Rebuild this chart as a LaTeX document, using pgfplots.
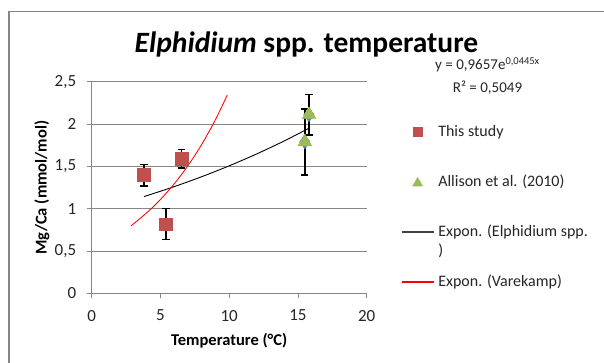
\documentclass[border=0pt]{standalone}
\usepackage{fontspec}
\setmainfont{Carlito}
\usepackage{pgfplots}
\usepackage{pgfplotstable}
\pgfplotsset{compat=1.18}
\definecolor{sqred}{HTML}{C0504D}
\definecolor{trigreen}{HTML}{9BBB59}
\definecolor{diablue}{HTML}{4F81BD}
\definecolor{gridgray}{HTML}{868686}
\definecolor{txt}{HTML}{262626}

\pgfplotstableread{
x y
3.8 1.40
5.4 0.82
6.55 1.59
}\thisstudy
\pgfplotstableread{
x y
15.5 1.79
15.8 2.11
}\allison
% error bar ends: x, lower, upper
\pgfplotstableread{
x y
3.8 1.27
3.8 1.52
3.8 nan
5.4 0.64
5.4 1.00
5.4 nan
6.55 1.48
6.55 1.70
6.55 nan
15.5 1.40
15.5 2.18
15.5 nan
15.8 1.87
15.8 2.35
}\errbars

\begin{document}
\begin{tikzpicture}
\useasboundingbox (0pt,0pt) rectangle (604pt,363pt);
\fill[white] (0pt,0pt) rectangle (604pt,363pt);
\draw[gridgray, line width=1.6pt] (9pt,0pt) -- (9pt,351.3pt) -- (604pt,351.3pt);
\begin{axis}[
  at={(91.7pt,69.5pt)}, anchor=south west,
  scale only axis, width=275pt, height=211.8pt,
  xmin=0, xmax=20, ymin=0, ymax=2.5,
  xtick={0,5,10,15,20}, ytick={0,0.5,1,1.5,2,2.5},
  axis x line*=bottom, axis y line*=left,
  axis line style={draw=gridgray, line width=0.9pt, -},
  ymajorgrids, grid style={gridgray, line width=0.9pt},
  tick align=outside, major tick length=5pt,
  tick style={gridgray, line width=0.9pt},
  /pgf/number format/use comma,
  /pgf/number format/assume math mode=true,
  tick label style={font=\fontsize{17}{20}\selectfont, text=txt},
  xticklabel style={yshift=-8pt},
  yticklabel style={xshift=-7pt},
  xlabel={\textbf{Temperature (°C)}},
  ylabel={\textbf{Mg/Ca (mmol/mol)}},
  label style={font=\fontsize{16.5}{19}\selectfont, text=black},
  x label style={at={(axis description cs:0.5,0)}, anchor=base, yshift=-52pt},
  y label style={at={(axis description cs:-0.1807,0.5)}, anchor=center},
  clip=false,
  unbounded coords=jump,
  legend style={at={(axis description cs:1.1247,0.8003)}, anchor=north west,
    draw=none, fill=none, inner sep=0pt, outer sep=0pt,
    column sep=4pt, row sep=34pt, nodes={inner sep=0pt},
    font=\fontsize{16}{19}\selectfont, text=txt},
  legend cell align=left,
]
% blue diamonds behind triangles
\addplot[only marks, forget plot, mark=diamond*, mark size=7pt,
  mark options={draw=diablue, fill=diablue}]
  table[x=x, y=y] {\allison};
% error bars
\addplot[black, line width=1.4pt, forget plot] table[x=x, y=y] {\errbars};
\addplot[only marks, forget plot, mark=-, mark size=3.6pt,
  mark options={draw=black, line width=1.4pt}] table[x=x, y=y] {\errbars};
\addplot[only marks, mark=square*, mark size=6.3pt,
  mark options={draw=sqred, fill=sqred},
  legend image code/.code={\path[draw=none, fill=none] (0pt,-3pt) rectangle (32pt,13pt);
    \fill[sqred, draw=none] (11pt,0pt) rectangle (21pt,10pt);}]
  table[x=x, y=y] {\thisstudy};
\addlegendentry{\smash{This study}}
\addplot[only marks, mark=triangle*, mark size=8pt,
  mark options={draw=trigreen, fill=trigreen},
  legend image code/.code={\path[draw=none, fill=none] (0pt,-3pt) rectangle (32pt,13pt);
    \fill[trigreen, draw=none] (10.5pt,0.5pt) -- (21.5pt,0.5pt) -- (16pt,10pt) -- cycle;}]
  table[x=x, y=y] {\allison};
\addlegendentry{\smash{Allison et al. (2010)}}
\addplot[black, line width=0.9pt, smooth,
  legend image code/.code={\path[draw=none, fill=none] (0pt,-3pt) rectangle (32pt,13pt);
    \draw[black!75, line width=1.2pt] (0pt,5pt) -- (32pt,5pt);}]
  coordinates {(3.8,1.1436) (6,1.2612) (8,1.3786) (10,1.5070) (12,1.6473) (14,1.8006) (15.8,1.9506)};
\addlegendentry{\smash{\begin{tabular}[t]{@{}l@{}}Expon. (Elphidium spp.\\)\end{tabular}}}
\addplot[red, line width=0.85pt, smooth,
  legend image code/.code={\path[draw=none, fill=none] (0pt,-3pt) rectangle (32pt,13pt);
    \draw[draw=red, line width=1.3pt] (0pt,5pt) -- (32pt,5pt);}]
  coordinates {(2.86,0.799) (4,0.952) (5,1.110) (6,1.294) (7,1.509) (8,1.759) (9,2.052) (9.86,2.342)};
\addlegendentry{\smash{Expon. (Varekamp)}}
\end{axis}
\node[anchor=base, inner sep=0pt, font=\fontsize{29.5}{34}\selectfont\bfseries, text=black] at (306.5pt,310.2pt) {\textit{Elphidium} spp. temperature};
\node[anchor=base, inner sep=0pt, font=\fontsize{15}{18}\selectfont, text=txt] at (487.5pt,293.2pt) {y = 0,9657e\textsuperscript{0,0445x}};
\node[anchor=base, inner sep=0pt, font=\fontsize{15}{18}\selectfont, text=txt] at (487.5pt,270.7pt) {R² = 0,5049};
\end{tikzpicture}
\end{document}
